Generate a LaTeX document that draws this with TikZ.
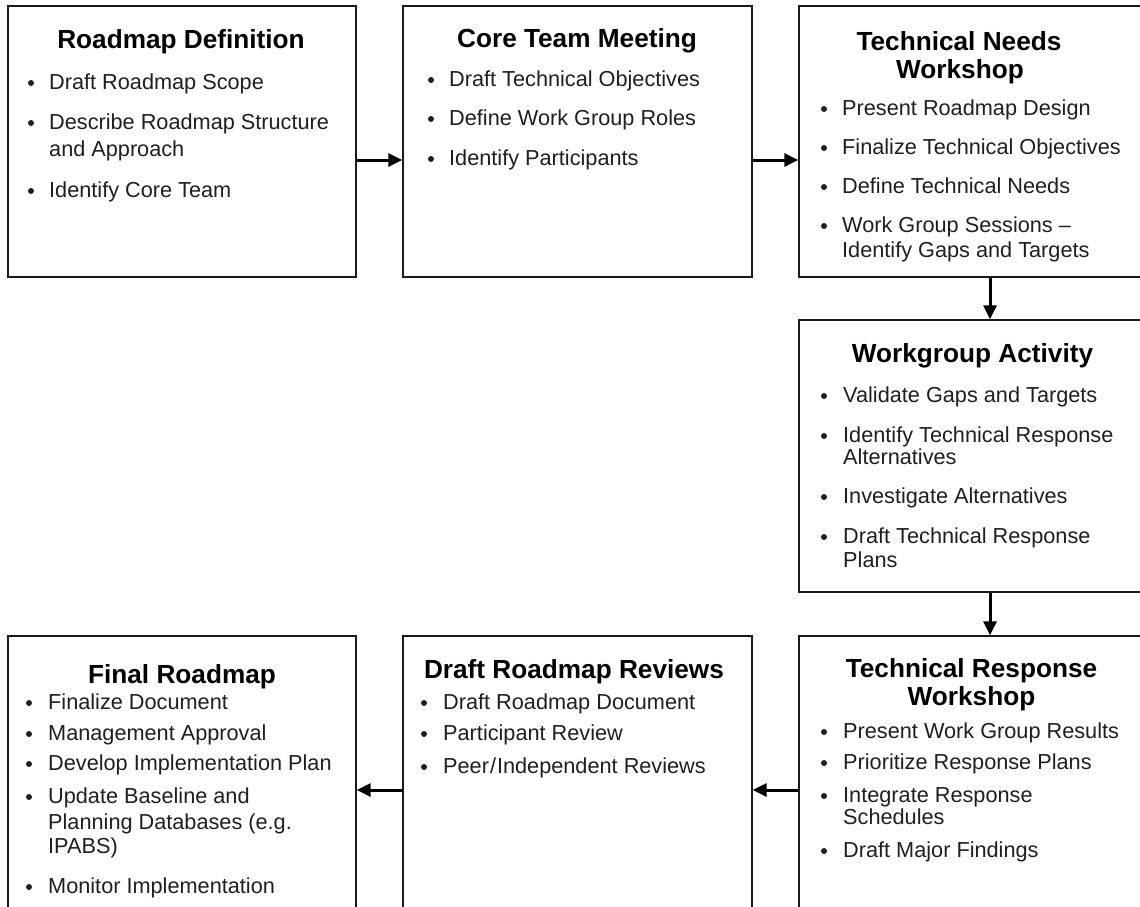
\documentclass[tikz,border=0pt]{standalone}
\usepackage{fontspec}
\setmainfont{Liberation Sans}
\usetikzlibrary{arrows.meta}

\tikzset{
  box/.style={draw=black!90, line width=1.3pt, rectangle, inner sep=0pt},
  ttl/.style={anchor=base, inner sep=0pt, font=\fontsize{26.2}{30}\selectfont\bfseries},
  itm/.style={anchor=base west, inner sep=0pt, text=black!88, font=\fontsize{21.7}{26}\selectfont},
  dot/.style={circle, fill=black!88, inner sep=0pt, minimum size=6pt},
  arr/.style={line width=3pt, -{Triangle[length=14pt,width=13pt]}}
}

% bullet item: name, bullet x, text x, baseline y, text
\newcommand\entry[5]{\node[dot] (#1b) at (#2,{#4-6}) {}; \node[itm] (#1) at (#3,#4) {#5};}
% continuation line of an item: name, text x, baseline y, text
\newcommand\cont[4]{\node[itm] (#1) at (#2,#3) {#4};}

\begin{document}
\begin{tikzpicture}[x=1pt,y=-1pt]
\useasboundingbox (0,0) rectangle (1140,906);
\fill[white] (0,0) rectangle (1140,906);
\clip (0,0) rectangle (1140,906);

% stage boxes
\node[box, minimum width=348pt, minimum height=271pt] (b1) at (182,141.5) {};
\node[box, minimum width=349pt, minimum height=271pt] (b2) at (577.5,141.5) {};
\node[box, minimum width=382pt, minimum height=271pt] (b3) at (990,141.5) {};
\node[box, minimum width=382pt, minimum height=272pt] (b4) at (990,456) {};
\node[box, minimum width=382pt, minimum height=308pt] (b7) at (990,790) {};
\node[box, minimum width=349pt, minimum height=308pt] (b6) at (577.5,790) {};
\node[box, minimum width=348pt, minimum height=308pt] (b5) at (182,790) {};

% Roadmap Definition
\node[ttl] (t1) at (181,48) {Roadmap Definition};
\entry{a1}{31}{49}{89}{Draft Roadmap Scope}
\entry{a2}{31}{49}{129}{Describe Roadmap Structure}
\cont{a2c}{49}{156}{and Approach}
\entry{a3}{31}{49}{197}{Identify Core Team}

% Core Team Meeting
\node[ttl] (t2) at (577,47) {Core Team Meeting};
\entry{c1}{431}{449}{86}{Draft Technical Objectives}
\entry{c2}{431}{449}{125}{Define Work Group Roles}
\entry{c3}{431}{449}{165}{Identify Participants}

% Technical Needs Workshop
\node[ttl] (t3a) at (959,50) {Technical Needs};
\node[ttl] (t3b) at (960,78) {Workshop};
\entry{n1}{824}{842}{115}{Present Roadmap Design}
\entry{n2}{824}{842}{154}{Finalize Technical Objectives}
\entry{n3}{824}{842}{193}{Define Technical Needs}
\entry{n4}{824}{842}{232}{Work Group Sessions –}
\cont{n4c}{842}{257}{Identify Gaps and Targets}

% Workgroup Activity
\node[ttl] (t4) at (972.5,362) {Workgroup Activity};
\entry{w1}{824}{843}{402}{Validate Gaps and Targets}
\entry{w2}{824}{843}{442}{Identify Technical Response}
\cont{w2c}{843}{464}{Alternatives}
\entry{w3}{824}{843}{503}{Investigate Alternatives}
\entry{w4}{824}{843}{543}{Draft Technical Response}
\cont{w4c}{843}{567}{Plans}

% Technical Response Workshop
\node[ttl] (t7a) at (971.5,677) {Technical Response};
\node[ttl] (t7b) at (971.5,705) {Workshop};
\entry{r1}{824}{843}{738}{Present Work Group Results}
\entry{r2}{824}{843}{769}{Prioritize Response Plans}
\entry{r3}{824}{843}{802}{Integrate Response}
\cont{r3c}{843}{824}{Schedules}
\entry{r4}{824}{843}{857}{Draft Major Findings}

% Draft Roadmap Reviews
\node[ttl] (t6) at (574,678) {Draft Roadmap Reviews};
\entry{d1}{424}{443}{709}{Draft Roadmap Document}
\entry{d2}{424}{443}{740}{Participant Review}
\entry{d3}{424}{443}{773}{Peer\kern1pt/\kern1pt Independent Reviews}

% Final Roadmap
\node[ttl] (t5) at (182,683) {Final Roadmap};
\entry{f1}{29}{48}{709}{Finalize Document}
\entry{f2}{29}{48}{740}{Management Approval}
\entry{f3}{29}{48}{770}{Develop Implementation Plan}
\entry{f4}{29}{48}{803}{Update Baseline and}
\cont{f4c}{48}{829}{Planning Databases (e.g.}
\cont{f4d}{48}{853}{IPABS)}
\entry{f5}{29}{48}{893}{Monitor Implementation}

% flow between stages
\draw[arr] ([yshift=-18.5pt]b1.east) -- ([yshift=-18.5pt]b2.west);
\draw[arr] ([yshift=-18.5pt]b2.east) -- ([yshift=-18.5pt]b3.west);
\draw[arr] (b3.south) -- (b4.north);
\draw[arr] (b4.south) -- (b7.north);
\draw[arr] (b7.west) -- (b6.east);
\draw[arr] (b6.west) -- (b5.east);
\end{tikzpicture}
\end{document}
